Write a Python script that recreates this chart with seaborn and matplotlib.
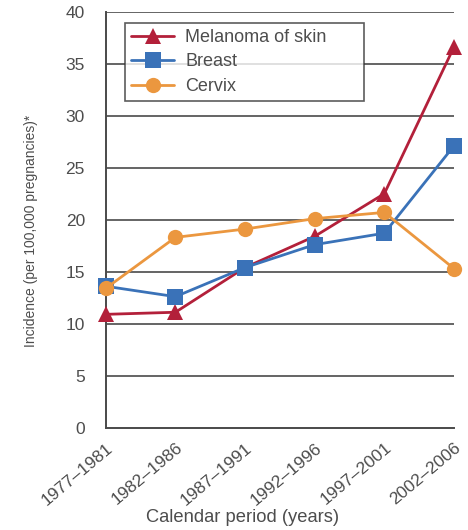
import pandas as pd
import seaborn as sns
import matplotlib.pyplot as plt

# data
periods = ["1977\u20131981", "1982\u20131986", "1987\u20131991",
           "1992\u20131996", "1997\u20132001", "2002\u20132006"]
melanoma = [10.9, 11.1, 15.4, 18.4, 22.5, 36.6]
breast = [13.6, 12.6, 15.4, 17.6, 18.7, 27.1]
cervix = [13.4, 18.3, 19.1, 20.1, 20.7, 15.3]

series = ["Melanoma of skin", "Breast", "Cervix"]
colors = {"Melanoma of skin": "#b3203a", "Breast": "#3a72b8", "Cervix": "#eb973f"}
markers = {"Melanoma of skin": "^", "Breast": "s", "Cervix": "o"}

df = pd.DataFrame({
    "period": periods * 3,
    "value": melanoma + breast + cervix,
    "cancer": [s for s in series for _ in periods],
})

sns.set_style("white")
plt.rcParams['font.family'] = ['Liberation Sans', 'DejaVu Sans']

fig = plt.figure(figsize=(4.68, 5.30), dpi=100)
ax = fig.add_axes([0.226, 0.193, 0.744, 0.785])

grid_c = "#4a4a4a"
txt_c = "#4d4d4d"
for v in range(5, 45, 5):
    ax.axhline(v, color=grid_c, lw=1.2, zorder=0)

sns.lineplot(data=df, x="period", y="value", hue="cancer", style="cancer",
             palette=colors, markers=markers, dashes=False, markersize=11,
             markeredgewidth=0, linewidth=2, sort=False, ax=ax, clip_on=False,
             zorder=3)

ax.set_xlim(0, 5)
ax.set_ylim(0, 40)
ax.set_yticks(range(0, 45, 5))
for s in ["top", "right"]:
    ax.spines[s].set_visible(False)
for s in ["left", "bottom"]:
    ax.spines[s].set_color(grid_c)
    ax.spines[s].set_linewidth(1.4)

ax.tick_params(axis="both", which="both", direction="out", length=6, width=1.2,
               color=grid_c, labelcolor=txt_c, labelsize=12.5)
ax.tick_params(axis="y", pad=9)
ax.tick_params(axis="x", pad=3)
plt.setp(ax.get_xticklabels(), rotation=40, ha="right", rotation_mode="anchor")

ax.set_xlabel("Calendar period (years)", fontsize=13.2, color=txt_c)
ax.xaxis.set_label_coords(0.394, -0.196)
ax.set_ylabel("Incidence (per 100,000 pregnancies)*", fontsize=10, color=txt_c)
ax.yaxis.set_label_coords(-0.195, 0.473)

leg = ax.legend(title=None, loc="upper left", bbox_to_anchor=(0.055, 0.973, 0.686, 0.0),
                mode="expand", frameon=True, fancybox=False, edgecolor="#333333",
                fontsize=13, handlelength=2.4, borderpad=0.33, labelspacing=0.42,
                borderaxespad=0, handletextpad=0.6)
leg.get_frame().set_linewidth(1.2)
for t in leg.get_texts():
    t.set_color(txt_c)
leg.set_zorder(5)

fig.savefig("out.png", dpi=100)
